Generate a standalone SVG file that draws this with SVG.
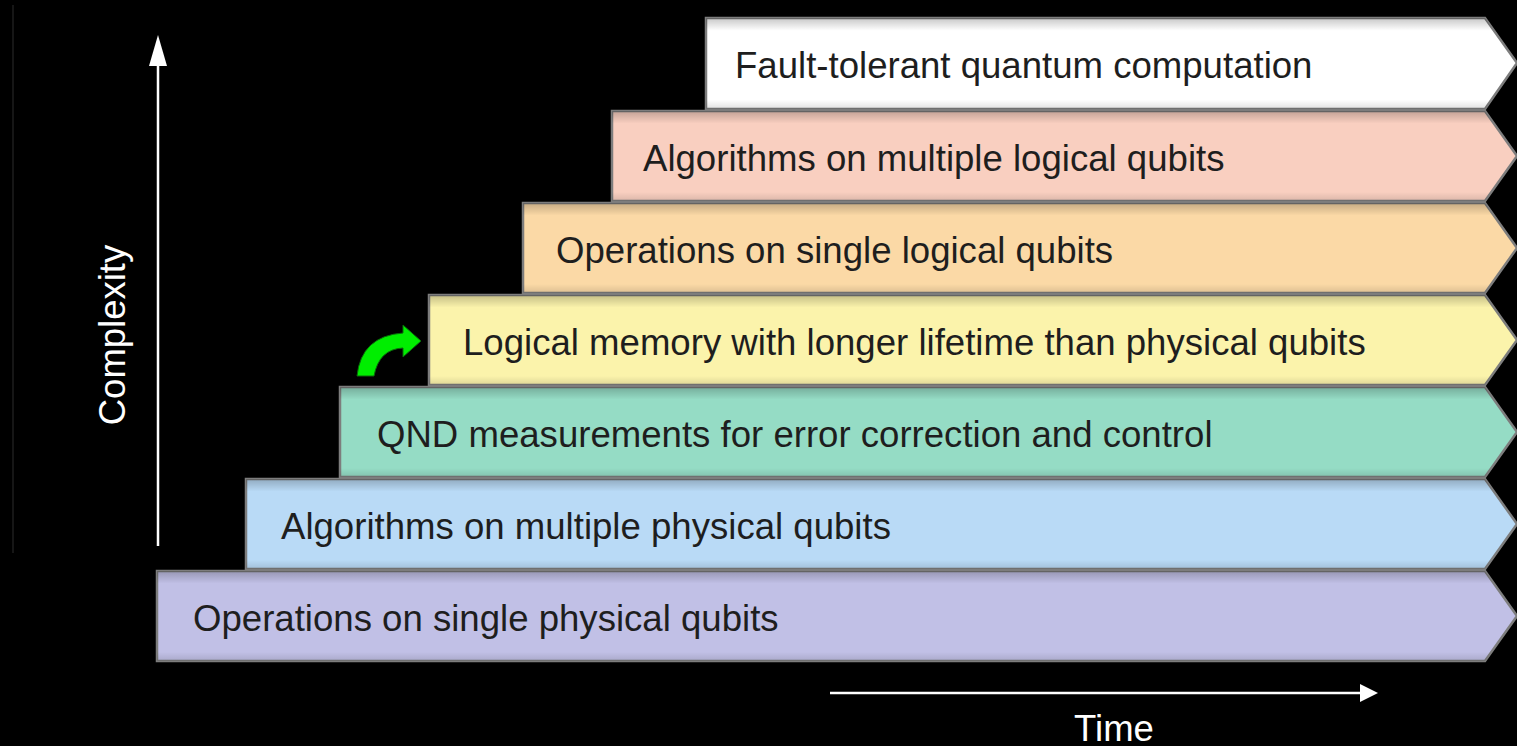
<svg xmlns="http://www.w3.org/2000/svg" width="1517" height="746" viewBox="0 0 1517 746">
  <defs>
    <linearGradient id="shade" x1="0" y1="0" x2="0" y2="1">
      <stop offset="0" stop-color="#000" stop-opacity="0.22"/>
      <stop offset="0.14" stop-color="#000" stop-opacity="0"/>
      <stop offset="0.9" stop-color="#000" stop-opacity="0"/>
      <stop offset="1" stop-color="#000" stop-opacity="0.12"/>
    </linearGradient>
    <style>
      .band { stroke: #7d7d7d; stroke-width: 2.5; stroke-linejoin: miter; }
      .shade { fill: url(#shade); stroke: none; }
      .lbl { font-family: "Liberation Sans", Arial, Helvetica, sans-serif; font-size: 36.6px; fill: #1e1e1e; }
      .axislbl { font-family: "Liberation Sans", Arial, Helvetica, sans-serif; font-size: 36.5px; fill: #ffffff; }
      .axis { stroke: #ffffff; stroke-width: 2.5; fill: none; }
      .head { fill: #ffffff; }
    </style>
  </defs>
  <rect x="0" y="0" width="1517" height="746" fill="#000000"/>
  <rect x="12" y="5" width="2" height="548" fill="#161616"/>

  <g id="band-purple">
    <path class="band" fill="#c1c0e6" d="M157,571 H1485 L1517,616 L1485,661 H157 Z"/>
    <path class="shade" d="M157,571 H1485 L1517,616 L1485,661 H157 Z"/>
    <text class="lbl" x="193" y="631">Operations on single physical qubits</text>
  </g>
  <g id="band-blue">
    <path class="band" fill="#b9daf6" d="M246,479 H1485 L1517,524 L1485,569 H246 Z"/>
    <path class="shade" d="M246,479 H1485 L1517,524 L1485,569 H246 Z"/>
    <text class="lbl" x="281" y="539">Algorithms on multiple physical qubits</text>
  </g>
  <g id="band-green">
    <path class="band" fill="#95dcc5" d="M340,387 H1485 L1517,432 L1485,477 H340 Z"/>
    <path class="shade" d="M340,387 H1485 L1517,432 L1485,477 H340 Z"/>
    <text class="lbl" x="377" y="447">QND measurements for error correction and control</text>
  </g>
  <g id="band-yellow">
    <path class="band" fill="#fbf3ab" d="M429,295 H1485 L1517,340 L1485,385 H429 Z"/>
    <path class="shade" d="M429,295 H1485 L1517,340 L1485,385 H429 Z"/>
    <text class="lbl" x="463" y="355">Logical memory with longer lifetime than physical qubits</text>
  </g>
  <g id="band-orange">
    <path class="band" fill="#fbd9a6" d="M523,203 H1485 L1517,248 L1485,293 H523 Z"/>
    <path class="shade" d="M523,203 H1485 L1517,248 L1485,293 H523 Z"/>
    <text class="lbl" x="556" y="263">Operations on single logical qubits</text>
  </g>
  <g id="band-pink">
    <path class="band" fill="#f9cfc0" d="M612,111 H1485 L1517,156 L1485,201 H612 Z"/>
    <path class="shade" d="M612,111 H1485 L1517,156 L1485,201 H612 Z"/>
    <text class="lbl" x="643" y="171">Algorithms on multiple logical qubits</text>
  </g>
  <g id="band-white">
    <path class="band" fill="#ffffff" d="M706,18 H1485 L1517,63 L1485,109 H706 Z"/>
    <path class="shade" d="M706,18 H1485 L1517,63 L1485,109 H706 Z"/>
    <text class="lbl" x="735" y="78">Fault-tolerant quantum computation</text>
  </g>

  <g id="connectors">
    <line class="axis" x1="158" y1="546" x2="158" y2="60"/>
    <polygon class="head" points="158,35 167,66 149,66"/>
    <line class="axis" x1="830" y1="693" x2="1364" y2="693"/>
    <polygon class="head" points="1378,693 1360,684 1360,702"/>
    <path fill="#00ee00" stroke="#0a6a0a" stroke-width="1" d="M357,376 Q361,336 403,333 L403,325 L421,341 L403,357 L403,348 Q379,349 374,376 Z"/>
  </g>

  <g id="axis-labels">
    <text class="axislbl" transform="translate(125,335) rotate(-90)" text-anchor="middle">Complexity</text>
    <text class="axislbl" x="1114" y="741" text-anchor="middle">Time</text>
  </g>
</svg>
